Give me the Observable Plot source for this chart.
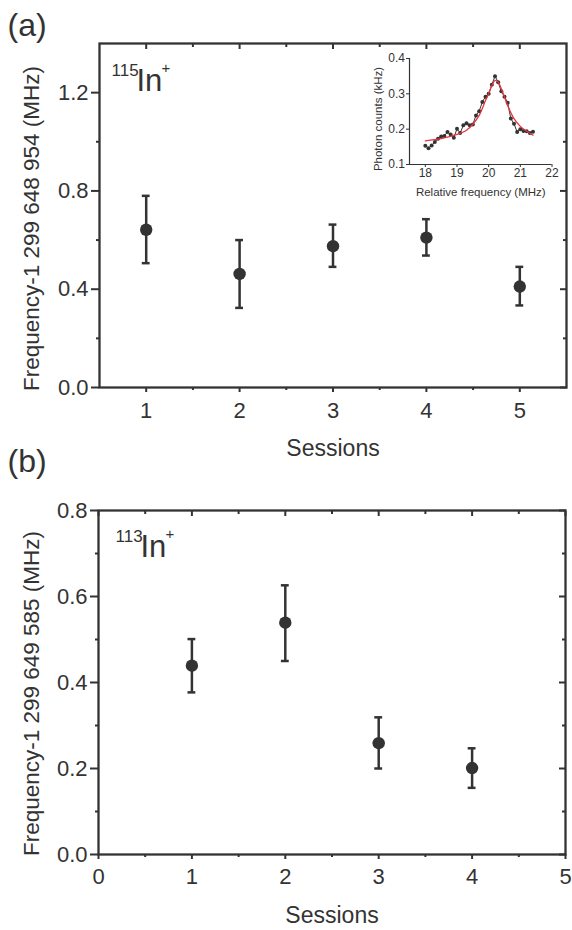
<!DOCTYPE html>
<html><head><meta charset="utf-8">
<script src="https://cdn.jsdelivr.net/npm/d3@7"></script>
<script src="https://cdn.jsdelivr.net/npm/@observablehq/plot@0.6"></script>
<style>
body{margin:0;background:#fff;}
#wrap{position:relative;width:572px;height:930px;overflow:hidden;font-family:"Liberation Sans",Arial,sans-serif;}
#wrap > div{position:absolute;}
</style></head><body>
<div id="wrap"><div id="pa" style="left:0;top:0"></div><div id="pb" style="left:0;top:465px"></div><div id="inset" style="left:365px;top:50px"></div></div>
<script>
// ---- Panel (a): 115In+ ----
const sessionsA = [1, 2, 3, 4, 5];
const freqA = [0.642, 0.462, 0.575, 0.610, 0.411];
const loA = [0.506, 0.324, 0.491, 0.537, 0.334];
const hiA = [0.780, 0.600, 0.663, 0.685, 0.491];
const xTicksA = [1, 2, 3, 4, 5];
const yTicksA = [0, 0.4, 0.8, 1.2];

// ---- Panel (b): 113In+ ----
const sessionsB = [1, 2, 3, 4];
const freqB = [0.439, 0.539, 0.259, 0.201];
const loB = [0.377, 0.450, 0.200, 0.155];
const hiB = [0.501, 0.626, 0.319, 0.247];
const xTicksB = [0, 1, 2, 3, 4, 5];
const yTicksB = [0, 0.2, 0.4, 0.6, 0.8];

// ---- Inset: photon counts spectrum ----
const insetFreq = [18.0,18.1,18.2,18.3,18.4,18.5,18.6,18.7,18.8,18.9,19.0,19.1,19.2,19.3,19.4,19.5,19.6,19.7,19.8,19.9,20.0,20.1,20.2,20.3,20.4,20.5,20.6,20.7,20.8,20.9,21.0,21.1,21.2,21.3,21.4];
const insetCounts = [0.153,0.146,0.154,0.164,0.173,0.179,0.181,0.192,0.185,0.176,0.201,0.189,0.211,0.217,0.211,0.213,0.239,0.251,0.277,0.292,0.300,0.326,0.350,0.333,0.307,0.292,0.275,0.230,0.215,0.192,0.200,0.195,0.194,0.189,0.193];
const fitFreq = [18.0,18.5,19.0,19.3,19.5,19.7,19.9,20.0,20.1,20.2,20.3,20.4,20.5,20.6,20.8,21.0,21.2,21.4];
const fitCounts = [0.167,0.173,0.185,0.197,0.214,0.239,0.281,0.300,0.323,0.338,0.333,0.314,0.291,0.267,0.230,0.208,0.194,0.183];
const insetXTicks = [18, 19, 20, 21, 22];
const insetYTicks = [0.1, 0.2, 0.3, 0.4];

const FONT = '"Liberation Sans", Arial, sans-serif';
const INK = "#333333";
const f1 = d3.format(".1f");

function minorBetween(ticks) {
  const out = [];
  for (let i = 0; i < ticks.length - 1; i++) out.push(+((ticks[i] + ticks[i+1]) / 2).toFixed(6));
  return out;
}

function panel(o) {
  const data = o.sessions.map((s, i) => ({s, f: o.freq[i], lo: o.lo[i], hi: o.hi[i]}));
  const cap = 0.042;
  const xMinor = o.xMinor;
  const yMinor = o.yMinor;
  const noLabel = () => "";
  return Plot.plot({
    width: 572, height: 465,
    marginTop: o.mTop, marginBottom: o.mBottom, marginLeft: o.mLeft, marginRight: o.mRight,
    style: {fontFamily: FONT, color: INK, background: "transparent", overflow: "visible"},
    x: {domain: o.xDomain}, y: {domain: o.yDomain},
    marks: [
      Plot.axisX({anchor: "bottom", ticks: o.xTicks, tickSize: 5, tickPadding: o.xPad, tickFormat: d => String(d), fontSize: 22, strokeWidth: 2, label: null}),
      Plot.axisX({anchor: "bottom", ticks: xMinor, tickSize: 3, tickFormat: noLabel, strokeWidth: 2, label: null}),
      Plot.axisX({anchor: "top", ticks: o.xTicks, tickSize: -5, tickFormat: noLabel, strokeWidth: 2, label: null}),
      Plot.axisX({anchor: "top", ticks: xMinor, tickSize: -3, tickFormat: noLabel, strokeWidth: 2, label: null}),
      Plot.axisY({anchor: "left", ticks: o.yTicks, tickSize: 8, tickPadding: 3, tickFormat: f1, fontSize: 22, strokeWidth: 2, label: null}),
      Plot.axisY({anchor: "left", ticks: yMinor, tickSize: 3, tickFormat: noLabel, strokeWidth: 2, label: null}),
      Plot.axisY({anchor: "right", ticks: o.yTicks, tickSize: -7, tickFormat: noLabel, strokeWidth: 2, label: null}),
      Plot.axisY({anchor: "right", ticks: yMinor, tickSize: -4, tickFormat: noLabel, strokeWidth: 2, label: null}),
      Plot.frame({stroke: INK, strokeWidth: 2.3}),
      Plot.ruleX(data, {x: "s", y1: "lo", y2: "hi", stroke: INK, strokeWidth: 2.5}),
      Plot.ruleY(data, {y: "hi", x1: d => d.s - cap, x2: d => d.s + cap, stroke: INK, strokeWidth: 2.5}),
      Plot.ruleY(data, {y: "lo", x1: d => d.s - cap, x2: d => d.s + cap, stroke: INK, strokeWidth: 2.5}),
      Plot.dot(data, {x: "s", y: "f", r: 6.2, fill: INK, stroke: null}),
      Plot.text([o.yTitle], {text: d => d, frameAnchor: "left", textAnchor: "middle", rotate: -90, lineAnchor: "bottom", dx: o.titleDx, dy: o.titleDy, fontSize: 22.5, fill: INK}),
      Plot.text(["Sessions"], {text: d => d, frameAnchor: "bottom", textAnchor: "middle", lineAnchor: "bottom", dy: 68, fontSize: 23, fill: INK}),
      Plot.text([o.tag], {text: d => d, frameAnchor: "top-left", textAnchor: "start", lineAnchor: "bottom", dx: o.tagDx, dy: o.tagDy, fontSize: 32, fill: INK, style: "letter-spacing:4px"}),
      Plot.text([o.mass], {text: d => d, frameAnchor: "top-left", textAnchor: "start", lineAnchor: "bottom", dx: o.isoDx, dy: o.isoDy - 15, fontSize: 17, fill: INK}),
      Plot.text(["In"], {text: d => d, frameAnchor: "top-left", textAnchor: "start", lineAnchor: "bottom", dx: o.isoDx + 25, dy: o.isoDy, fontSize: 31, fill: INK}),
      Plot.text(["+"], {text: d => d, frameAnchor: "top-left", textAnchor: "start", lineAnchor: "bottom", dx: o.isoDx + 50, dy: o.isoDy - 18, fontSize: 15, fill: INK})
    ]
  });
}

const pa = panel({
  sessions: sessionsA, freq: freqA, lo: loA, hi: hiA,
  xDomain: [0.5, 5.5], xTicks: xTicksA, xMinor: [1.5, 2.5, 3.5, 4.5],
  yDomain: [0, 1.4], yTicks: yTicksA, yMinor: [0.2, 0.6, 1.0],
  mTop: 43, mBottom: 78, mLeft: 99, mRight: 6, xPad: 10,
  yTitle: "Frequency-1 299 648 954 (MHz)", titleDx: -61, titleDy: 13,
  tag: "(a)", tagDx: -92, tagDy: -8, mass: "115", isoDx: 12, isoDy: 47
});
document.getElementById("pa").appendChild(pa);

const pb = panel({
  sessions: sessionsB, freq: freqB, lo: loB, hi: hiB,
  xDomain: [0, 5], xTicks: xTicksB, xMinor: minorBetween(xTicksB),
  yDomain: [0, 0.8], yTicks: yTicksB, yMinor: minorBetween(yTicksB),
  mTop: 45, mBottom: 76, mLeft: 98, mRight: 7, xPad: 9,
  yTitle: "Frequency-1 299 649 585 (MHz)", titleDx: -60, titleDy: 11,
  tag: "(b)", tagDx: -91, tagDy: -39, mass: "113", isoDx: 17, isoDy: 46
});
document.getElementById("pb").appendChild(pb);

const pts = insetFreq.map((x, i) => ({x, y: insetCounts[i]}));
const fit = fitFreq.map((x, i) => ({x, y: fitCounts[i]}));
const inset = Plot.plot({
  width: 195, height: 155, marginLeft: 44, marginRight: 8.5, marginTop: 8, marginBottom: 41,
  style: {fontFamily: FONT, color: INK, background: "transparent", overflow: "visible"},
  x: {domain: [17.5, 22]}, y: {domain: [0.1, 0.4]},
  marks: [
    Plot.axisX({ticks: insetXTicks, tickSize: 3, tickPadding: 1, fontSize: 12, tickFormat: d => String(d), label: null}),
    Plot.axisY({ticks: insetYTicks, tickSize: 3, tickPadding: 1.5, fontSize: 12, tickFormat: f1, label: null}),
    Plot.ruleX([17.5], {stroke: INK, strokeWidth: 1.2}),
    Plot.ruleY([0.1], {stroke: INK, strokeWidth: 1.2}),
    Plot.line(pts, {x: "x", y: "y", stroke: INK, strokeWidth: 1}),
    Plot.dot(pts, {x: "x", y: "y", r: 2, fill: INK, stroke: null}),
    Plot.line(fit, {x: "x", y: "y", stroke: "#e8323c", strokeWidth: 1.3, curve: "catmull-rom"}),
    Plot.text(["Relative frequency (MHz)"], {text: d => d, frameAnchor: "bottom", textAnchor: "middle", lineAnchor: "bottom", dy: 31, fontSize: 11.5, fill: INK}),
    Plot.text(["Photon counts (kHz)"], {text: d => d, frameAnchor: "left", textAnchor: "middle", rotate: -90, lineAnchor: "bottom", dx: -28, dy: 7.5, fontSize: 11.5, fill: INK})
  ]
});
document.getElementById("inset").appendChild(inset);
</script>
</body></html>
